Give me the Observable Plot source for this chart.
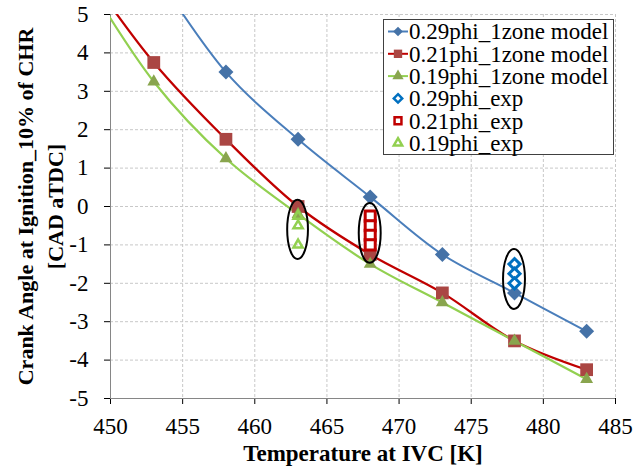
<!DOCTYPE html>
<html><head><meta charset="utf-8">
<script src="https://cdn.jsdelivr.net/npm/d3@7"></script>
<script src="https://cdn.jsdelivr.net/npm/@observablehq/plot@0.6"></script>
<style>body{margin:0;background:#fff}</style>
</head><body><div id="chart"></div>
<script>
// ---- data ----
const xTicks = [450, 455, 460, 465, 470, 475, 480, 485];
const yTicks = [-5, -4, -3, -2, -1, 0, 1, 2, 3, 4, 5];

const temp29 = [453, 458, 463, 468, 473, 478, 483];
const model29 = [6.15, 3.5, 1.75, 0.25, -1.25, -2.25, -3.25];
const temp21 = [448, 453, 458, 463, 468, 473, 478, 483];
const model21 = [6.3, 3.75, 1.75, 0.0, -1.25, -2.25, -3.5, -4.25];
const temp19 = [448, 453, 458, 463, 468, 473, 478, 483];
const model19 = [6.1, 3.25, 1.25, -0.2, -1.5, -2.5, -3.5, -4.5];

const exp29T = 478, exp29 = [-1.5, -1.75, -2.0];
const exp21T = 468, exp21 = [-0.25, -0.5, -0.75, -1.0];
const exp19T = 463, exp19 = [-0.25, -0.5, -1.0];

// annotation ellipses (centre and half-extents in data units)
const ellipseT = [463, 468, 478];
const ellipseY = [-0.61, -0.7, -1.9];
const ellipseHalfT = [0.72, 0.76, 0.76];
const ellipseHalfY = [0.77, 0.78, 0.78];

const legendNames = ["0.29phi_1zone model", "0.21phi_1zone model", "0.19phi_1zone model",
                     "0.29phi_exp", "0.21phi_exp", "0.19phi_exp"];
const xTitle = "Temperature at IVC [K]";
const yTitle = "Crank Angle at Ignition_10% of CHR\n[CAD aTDC]";

// ---- styles ----
const C = {
  line29: "#4a7ebb", mark29: "#4572a7",
  line21: "#c00000", mark21: "#aa4643",
  line19: "#92d050", mark19: "#89a54e",
  exp29: "#0070c0", exp21: "#c00000", exp19: "#92d050"
};

const rows = (T, V) => T.map((t, i) => ({t, v: V[i]}));
const d29 = rows(temp29, model29), d21 = rows(temp21, model21), d19 = rows(temp19, model19);
const inFrame = d => d.t >= 450 && d.t <= 485 && d.v <= 5 && d.v >= -5;
const e29 = exp29.map(v => ({t: exp29T, v}));
const e21 = exp21.map(v => ({t: exp21T, v}));
const e19 = exp19.map(v => ({t: exp19T, v}));

function getScales(args) {
  return args.find(a => a && typeof a.x === "function" && typeof a.y === "function");
}

function ellipseMark(...args) {
  const s = getScales(args);
  const g = d3.create("svg:g");
  ellipseT.forEach((t, i) => {
    const cx = s.x(t), cy = s.y(ellipseY[i]);
    const rx = s.x(t + ellipseHalfT[i]) - cx;
    const ry = cy - s.y(ellipseY[i] + ellipseHalfY[i]);
    g.append("ellipse").attr("cx", cx).attr("cy", cy).attr("rx", rx).attr("ry", ry)
      .attr("fill", "none").attr("stroke", "#000").attr("stroke-width", 2);
  });
  return g.node();
}

function legendMark() {
  const g = d3.create("svg:g");
  const x0 = 383, y0 = 19, w = 230, h = 135;
  g.append("rect").attr("x", x0 + 0.5).attr("y", y0 + 0.5).attr("width", w).attr("height", h)
    .attr("fill", "#fff").attr("stroke", "#404040").attr("stroke-width", 1);
  const spec = [
    {type: d3.symbolDiamond2, size: 60, fill: C.mark29, stroke: "none", line: C.line29},
    {type: d3.symbolSquare, size: 70, fill: C.mark21, stroke: "none", line: C.line21},
    {type: d3.symbolTriangle, size: 55, fill: C.mark19, stroke: "none", line: C.line19},
    {type: d3.symbolDiamond2, size: 45, fill: "#fff", stroke: C.exp29},
    {type: d3.symbolSquare2, size: 60, fill: "#fff", stroke: C.exp21},
    {type: d3.symbolTriangle2, size: 50, fill: "#fff", stroke: C.exp19}
  ];
  legendNames.forEach((name, i) => {
    const cy = 31.5 + i * 22.3, cx = 398;
    const sp = spec[i];
    if (sp.line) g.append("line").attr("x1", 388).attr("x2", 408).attr("y1", cy).attr("y2", cy)
      .attr("stroke", sp.line).attr("stroke-width", 2);
    g.append("path").attr("transform", `translate(${cx},${cy})`)
      .attr("d", d3.symbol(sp.type, sp.size)())
      .attr("fill", sp.fill).attr("stroke", sp.stroke).attr("stroke-width", sp.line ? 0 : 2.5);
    g.append("text").attr("x", 409).attr("y", cy).attr("dy", "0.34em")
      .attr("text-anchor", "start")
      .attr("font-size", 23).attr("fill", "#000").text(name);
  });
  return g.node();
}

const chart = Plot.plot({
  width: 633, height: 470,
  marginLeft: 110, marginRight: 18, marginTop: 14, marginBottom: 72,
  style: {fontFamily: "'Liberation Serif','Times New Roman',serif", fontSize: "23px", color: "#000", background: "#fff", overflow: "visible"},
  x: {domain: [450, 485], ticks: xTicks, tickSize: 6, tickPadding: 13, label: null, tickFormat: d => String(d)},
  y: {domain: [-5, 5], ticks: yTicks, tickSize: 6, tickPadding: 16, label: null, tickFormat: d => String(d)},
  marks: [
    Plot.ruleX(xTicks.slice(1), {stroke: "#c8c8c8", strokeDasharray: "3,2"}),
    Plot.ruleY(yTicks.slice(1), {stroke: "#c8c8c8", strokeDasharray: "3,2"}),
    Plot.ruleX([450], {stroke: "#868686"}),
    Plot.ruleY([-5], {stroke: "#868686"}),
    Plot.line(d29, {x: "t", y: "v", stroke: C.line29, strokeWidth: 2, curve: "catmull-rom", clip: true}),
    Plot.line(d21, {x: "t", y: "v", stroke: C.line21, strokeWidth: 2.25, curve: "catmull-rom", clip: true}),
    Plot.line(d19, {x: "t", y: "v", stroke: C.line19, strokeWidth: 2.25, curve: "catmull-rom", clip: true}),
    Plot.dot(d29.filter(inFrame), {x: "t", y: "v", symbol: "diamond2", r: 6.75, fill: C.mark29, stroke: "none"}),
    Plot.dot(d21.filter(inFrame), {x: "t", y: "v", symbol: "square", r: 7.2, fill: C.mark21, stroke: "none"}),
    Plot.dot(d19.filter(inFrame), {x: "t", y: "v", symbol: "triangle", r: 4.8, fill: C.mark19, stroke: "none"}),
    Plot.dot(e29, {x: "t", y: "v", symbol: "diamond2", r: 5, fill: "#fff", stroke: C.exp29, strokeWidth: 3}),
    Plot.dot(e21, {x: "t", y: "v", symbol: "square2", r: 6.4, fill: "#fff", stroke: C.exp21, strokeWidth: 3}),
    Plot.dot(e19, {x: "t", y: "v", symbol: "triangle2", r: 4.4, fill: "none", stroke: C.exp19, strokeWidth: 2.5}),
    ellipseMark,
    legendMark,
    Plot.text([xTitle], {text: d => d, frameAnchor: "bottom", dy: 62, fontWeight: "bold", fontSize: 23}),
    Plot.text([yTitle], {text: d => d, frameAnchor: "left", textAnchor: "middle", dx: -72, rotate: -90, fontWeight: "bold", fontSize: 22, lineHeight: 1.35})
  ]
});
document.getElementById("chart").appendChild(chart);
</script>
</body></html>
